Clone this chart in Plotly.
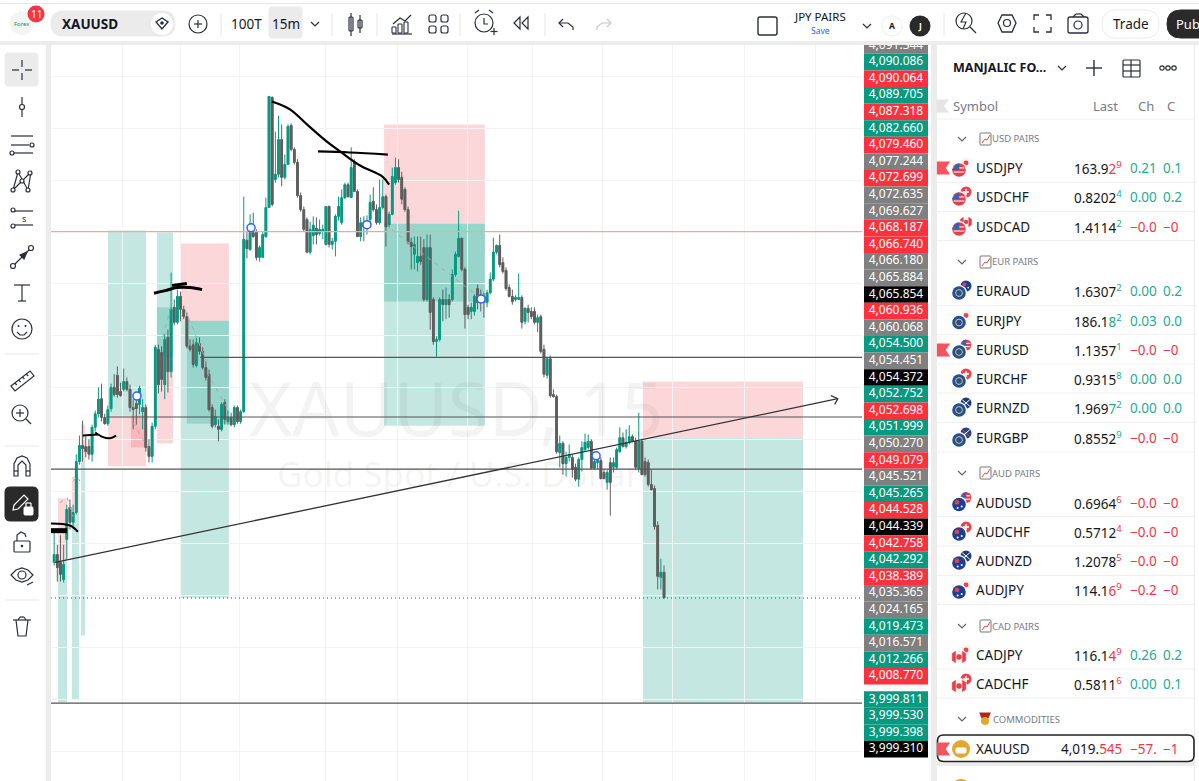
import plotly.graph_objects as go

# candles, one entry per 15m bar
bar_open = [
    4026.4,4027.9,4026.4,4023.1,4030.8,4037.0,4034.1,4036.0,4045.8,4048.9,
    4048.7,4048.7,4047.2,4052.4,4055.0,4057.9,4054.3,4053.1,4056.0,4060.1,
    4062.4,4059.3,4059.7,4061.2,4059.7,4056.2,4057.0,4056.8,4055.4,4056.2,
    4048.7,4046.8,4052.6,4067.4,4066.8,4060.6,4069.7,4063.1,4075.5,4072.6,
    4077.6,4075.1,4073.7,4068.0,4068.3,4064.3,4068.5,4067.0,4063.9,4062.6,
    4056.2,4052.9,4052.6,4052.0,4057.2,4053.5,4054.3,4052.9,4056.2,4053.5,
    4055.4,4088.4,4086.6,4089.9,4090.1,4085.1,4085.1,4089.1,4094.7,4115.9,
    4100.1,4101.1,4107.8,4100.5,4103.0,4110.5,4105.9,4103.4,4097.0,4094.3,
    4092.4,4086.1,4089.3,4090.7,4089.7,4090.1,4087.6,4094.9,4087.6,4088.2,
    4093.0,4091.8,4096.6,4099.1,4096.6,4103.6,4097.8,4089.1,4091.8,4090.9,
    4092.4,4095.9,4094.3,4091.8,4094.7,4096.8,4091.4,4093.4,4099.5,4102.4,
    4100.5,4098.2,4094.3,4088.0,4085.7,4084.1,4085.3,4087.0,4077.0,4087.0,
    4077.0,4068.9,4069.3,4077.0,4076.0,4077.0,4077.0,4081.8,4085.3,4088.8,
    4082.8,4075.5,4074.7,4074.7,4079.1,4077.6,4077.6,4076.4,4078.3,4080.9,
    4086.1,4087.4,4084.1,4082.6,4079.3,4077.6,4077.0,4077.0,4077.4,4072.8,
    4075.3,4074.7,4074.7,4072.6,4073.7,4067.4,4062.4,4065.6,4058.7,4058.3,
    4047.5,4049.3,4045.4,4046.6,4046.6,4044.7,4042.4,4046.2,4048.1,4048.5,
    4049.7,4044.5,4045.6,4046.0,4043.7,4041.8,4045.6,4044.7,4044.7,4047.7,
    4050.4,4048.7,4049.5,4050.6,4049.7,4044.5,4049.7,4045.8,4045.6,4041.4,
    4040.6,4033.5,4023.5,4024.5,
]
bar_high = [
    4032.1,4029.8,4031.6,4029.8,4037.5,4038.5,4037.5,4047.2,4050.8,4053.7,
    4050.6,4050.1,4052.9,4055.6,4060.1,4060.8,4055.0,4056.6,4060.8,4062.6,
    4064.1,4061.0,4063.7,4062.0,4060.6,4057.8,4058.7,4060.4,4057.8,4056.8,
    4050.1,4053.3,4068.3,4068.3,4068.0,4070.3,4071.2,4082.2,4077.0,4078.9,
    4078.5,4075.8,4074.5,4069.3,4069.3,4069.9,4069.7,4067.8,4065.1,4063.5,
    4056.8,4055.8,4053.9,4057.2,4057.8,4055.6,4055.2,4056.6,4056.6,4055.8,
    4096.8,4090.1,4093.4,4093.7,4090.5,4087.4,4090.1,4096.6,4116.1,4116.1,
    4109.3,4112.4,4110.7,4104.9,4110.7,4110.9,4106.3,4104.0,4097.6,4094.9,
    4092.8,4092.0,4093.0,4092.8,4092.4,4091.4,4094.9,4095.1,4088.9,4093.4,
    4096.8,4098.2,4099.5,4099.5,4106.3,4104.0,4098.2,4092.8,4093.0,4093.2,
    4097.2,4098.6,4095.3,4100.1,4100.1,4097.2,4093.9,4102.4,4104.3,4104.0,
    4101.6,4098.6,4094.9,4088.9,4089.1,4089.1,4089.1,4088.6,4089.5,4089.5,
    4077.4,4069.9,4077.4,4078.9,4079.3,4078.0,4082.8,4086.2,4094.1,4088.9,
    4083.2,4076.0,4076.4,4078.0,4079.9,4078.9,4078.3,4078.9,4082.2,4088.9,
    4087.6,4089.5,4085.1,4083.2,4079.9,4078.9,4077.8,4082.0,4077.8,4075.5,
    4076.0,4075.5,4075.5,4074.1,4074.1,4068.3,4066.0,4066.2,4059.7,4058.7,
    4050.8,4049.7,4047.7,4049.1,4047.2,4045.4,4046.6,4049.7,4051.2,4051.0,
    4050.1,4047.2,4047.0,4046.6,4044.3,4044.3,4046.6,4046.6,4048.5,4052.4,
    4051.4,4052.0,4052.8,4051.0,4050.4,4055.2,4050.2,4046.6,4046.2,4044.3,
    4041.2,4034.3,4027.1,4025.8,
]
bar_low = [
    4025.8,4022.7,4022.7,4022.5,4027.0,4032.7,4033.3,4035.6,4045.2,4045.8,
    4046.6,4046.2,4045.8,4051.6,4054.3,4053.5,4052.9,4052.7,4055.4,4058.3,
    4058.1,4058.3,4059.3,4059.3,4055.4,4052.0,4052.9,4054.9,4052.0,4047.7,
    4045.6,4045.6,4052.0,4058.9,4059.3,4057.8,4059.1,4062.0,4072.0,4072.2,
    4072.8,4073.2,4067.6,4067.0,4063.9,4063.9,4066.4,4063.5,4061.4,4055.4,
    4052.2,4052.4,4049.7,4051.6,4052.9,4052.9,4052.6,4052.4,4053.1,4053.1,
    4055.2,4084.9,4086.4,4088.9,4084.5,4084.3,4085.1,4088.9,4094.7,4094.9,
    4099.5,4100.5,4098.8,4100.1,4103.0,4105.5,4103.0,4096.6,4093.9,4090.1,
    4085.9,4085.7,4087.6,4087.6,4089.3,4088.6,4087.4,4087.0,4086.6,4085.3,
    4092.2,4091.4,4096.3,4096.6,4096.6,4097.8,4089.1,4088.2,4088.2,4089.5,
    4090.9,4093.9,4091.4,4091.4,4094.3,4087.2,4090.9,4093.2,4099.1,4099.5,
    4095.3,4093.9,4087.6,4082.8,4082.8,4082.4,4083.7,4076.6,4076.6,4071.2,
    4068.3,4066.0,4068.9,4072.8,4073.2,4073.5,4076.6,4081.4,4085.1,4082.4,
    4071.4,4073.2,4073.2,4073.9,4075.1,4074.7,4073.5,4075.5,4078.0,4080.5,
    4085.7,4083.2,4082.0,4078.7,4077.4,4076.0,4076.6,4077.0,4071.4,4072.2,
    4072.6,4073.2,4072.2,4070.7,4066.6,4062.0,4061.8,4058.1,4058.1,4047.3,
    4044.7,4043.3,4042.9,4045.8,4042.7,4042.0,4041.0,4043.9,4047.7,4048.1,
    4044.3,4044.3,4044.3,4042.4,4042.4,4040.4,4035.4,4043.7,4044.3,4047.5,
    4048.5,4048.3,4049.1,4049.5,4044.3,4043.7,4043.1,4042.9,4041.0,4040.2,
    4032.7,4021.2,4021.2,4019.4,
]
bar_close = [
    4027.9,4025.4,4024.1,4026.0,4036.6,4034.1,4036.0,4045.8,4048.9,4048.3,
    4047.7,4047.2,4052.4,4055.0,4057.8,4054.3,4053.1,4055.8,4060.1,4058.7,
    4058.7,4058.5,4061.2,4059.7,4056.2,4055.8,4056.0,4059.9,4056.2,4048.5,
    4046.8,4052.6,4067.8,4060.6,4061.6,4069.3,4063.1,4075.1,4072.6,4077.6,
    4075.1,4073.7,4068.0,4067.4,4064.5,4068.7,4067.0,4063.9,4062.0,4055.8,
    4052.6,4054.5,4052.0,4056.8,4053.9,4054.3,4052.9,4056.2,4053.5,4055.4,
    4088.6,4086.8,4089.9,4089.1,4085.1,4087.0,4089.5,4094.7,4116.1,4095.3,
    4101.1,4107.8,4100.5,4103.0,4110.3,4105.9,4103.4,4097.0,4094.3,4090.5,
    4086.1,4090.5,4091.3,4089.5,4090.5,4090.5,4094.9,4087.6,4088.2,4093.0,
    4094.9,4096.6,4099.1,4096.8,4102.4,4097.8,4089.1,4091.8,4090.9,4091.3,
    4095.7,4094.3,4091.8,4094.7,4096.8,4091.0,4093.4,4100.7,4102.4,4100.1,
    4096.3,4094.3,4088.0,4087.2,4087.6,4085.3,4084.3,4077.0,4087.0,4074.5,
    4068.9,4069.3,4077.0,4076.0,4077.0,4076.0,4081.8,4085.7,4088.8,4082.8,
    4074.1,4074.1,4075.5,4077.6,4076.4,4077.0,4076.4,4078.3,4080.9,4086.1,
    4087.4,4083.7,4082.4,4079.1,4077.6,4076.6,4077.4,4077.4,4072.6,4075.3,
    4074.5,4073.7,4072.6,4073.5,4067.0,4062.6,4065.6,4058.5,4058.3,4047.7,
    4049.3,4045.4,4046.6,4047.2,4044.3,4042.4,4046.2,4048.5,4049.5,4049.7,
    4044.5,4045.8,4046.0,4042.5,4042.5,4043.7,4041.8,4045.6,4048.1,4050.4,
    4048.7,4049.5,4050.6,4049.7,4044.7,4049.7,4043.3,4043.3,4041.4,4040.4,
    4033.3,4023.7,4024.5,4019.6,
]
bar_index = list(range(len(bar_open)))

# vertical grid lines sit on these bars
grid_bars = [21.5,40.1,58.8,86.0,108.5,130.7,151.5,173.4,195.8,218.6,240.8]

# position tools: [first bar, last bar, low price, high price]
profit_zones = [
    [17.0,29.1,4054.7,4090.3],
    [32.5,37.6,4066.0,4089.9],
    [32.5,37.6,4066.0,4075.5],
    [40.1,55.3,4019.6,4072.9],
    [42.0,55.3,4053.1,4072.9],
    [104.4,136.3,4052.7,4091.6],
    [104.4,136.3,4076.6,4091.6],
    [186.3,237.0,3999.4,4050.4],
    [1.2,4.1,3999.4,4027.0],
    [5.6,7.9,4000.0,4035.6],
    [8.5,9.8,4012.3,4045.6],
]
stop_zones = [
    [17.0,29.1,4044.9,4054.7],
    [24.3,29.1,4048.5,4054.7],
    [32.5,37.6,4049.3,4066.0],
    [40.1,55.3,4072.9,4087.8],
    [104.4,136.3,4091.6,4110.7],
    [186.3,237.0,4050.4,4061.2],
    [1.2,4.1,4027.0,4038.7],
    [5.6,7.9,4035.6,4042.9],
    [8.5,9.8,4045.6,4052.9],
]

# horizontal levels: price and the bar they start from
level_prices = [4065.854,4054.372,4044.339,3999.310]
level_starts = [46.2,16.7,-1,-1]
entry_price = 4090.064
last_price = 4019.545

trend_bars = [0.3,248.0]
trend_prices = [4026.4,4057.9]
arrow_bars = [245.8,248.0,247.0]
arrow_prices = [4058.5,4057.9,4056.8]

# hand drawn brush strokes
brush_strokes = [
    ([68.9,74.6,80.0,86.3,90.5,96.8,103.8,106.0],[4115.1,4113.6,4110.7,4107.4,4105.5,4102.8,4100.7,4099.1],2.2),
    ([83.5,93.6,105.6],[4105.5,4105.3,4104.9],2.2),
    ([31.6,35.1,38.9,43.0,46.8],[4078.2,4078.7,4079.3,4079.3,4078.9],3),
    ([37.3,42.0],[4079.7,4080.1],3),
    ([9.1,13.9],[4050.8,4051.0],2),
    ([13.0,15.5,17.7,19.6],[4051.4,4050.5,4050.3,4050.8],2),
    ([-1,5.0,7.5],[4033.9,4033.5,4032.3],2),
    ([-1,4.1],[4032.5,4032.5],5),
]
dash_strokes = [
    ([106.9,134.8],[4090.4,4077.3]),
    ([34.4,36.7],[4069.8,4075.1]),
    ([41.4,48.4],[4075.1,4064.8]),
    ([48.4,55.6],[4062.9,4055.2]),
    ([24.9,29.7],[4053.3,4048.5]),
    ([1.8,4.1,6.0],[4037.9,4038.9,4035.2]),
    ([6.0,7.2,8.2],[4042.0,4042.9,4042.0]),
]
marker_bars = [62.3,26.2,99.0,135.1,171.5]
marker_prices = [4090.8,4058.4,4091.4,4077.1,4046.9]

# price scale tags, top to bottom
tag_text = [
    "4,091.344","4,090.086","4,090.064","4,089.705","4,087.318","4,082.660","4,079.460","4,077.244",
    "4,072.699","4,072.635","4,069.627","4,068.187","4,066.740","4,066.180","4,065.884","4,065.854",
    "4,060.936","4,060.068","4,054.500","4,054.451","4,054.372","4,052.752","4,052.698","4,051.999",
    "4,050.270","4,049.079","4,045.521","4,045.265","4,044.528","4,044.339","4,042.758","4,042.292",
    "4,038.389","4,035.365","4,024.165","4,019.473","4,016.571","4,012.266","4,008.770",
    "3,999.811","3,999.530","3,999.398","3,999.310",
]
tag_kind = [
    "a","g","r","g","r","g","r","a",
    "r","a","a","r","r","a","a","k",
    "r","a","g","a","k","g","r","g",
    "a","r","a","g","r","k","r","g",
    "r","a","a","g","a","g","r",
    "g","g","g","k",
]

# watchlist
watch_groups = ["USD PAIRS","EUR PAIRS","AUD PAIRS","CAD PAIRS","COMMODITIES"]
watch_symbols = ["USDJPY","USDCHF","USDCAD","EURAUD","EURJPY","EURUSD","EURCHF","EURNZD","EURGBP",
                 "AUDUSD","AUDCHF","AUDNZD","AUDJPY","CADJPY","CADCHF","XAUUSD"]
watch_main = ["163.9","0.8202","1.4114","1.6307","186.1","1.1357","0.9315","1.969","0.8552",
              "0.6964","0.5712","1.2078","114.1","116.1","0.5811","4,019."]
watch_tail = ["2","","","","8","","","7","","","","","6","4","","545"]
watch_sup = ["9","4","2","2","2","1","8","2","9","6","4","5","9","9","6",""]
watch_dir = ["r","g","g","g","g","g","g","g","g","r","r","r","r","r","r","r"]
watch_chg = ["0.21","0.00","−0.0","0.00","0.03","−0.0","0.00","0.00","−0.0",
             "−0.0","−0.0","−0.0","−0.2","0.26","0.00","−57."]
watch_pct = ["0.1","0.2","−0","0.2","0.0","−0","0.0","0.0","−0","−0","−0","−0","−0","0.2","0.1","−1"]

GREEN = "#089981"
RED = "#f23645"
GREY = "#5f5f5f"
INK = "#2a2e39"
FONT = "Noto Sans"

# page furniture is laid out in window pixels
def X(px):
    return px / 1199
def Y(py):
    return 1 - py / 781

shapes = []
notes = []

def rect(x0, y0, x1, y1, fill, layer="below"):
    shapes.append(dict(type="rect", xref="paper", yref="paper", x0=X(x0), x1=X(x1), y0=Y(y0), y1=Y(y1),
                       fillcolor=fill, line_width=0, layer=layer))

def seg(x0, y0, x1, y1, color=INK, width=1.2):
    shapes.append(dict(type="line", xref="paper", yref="paper", x0=X(x0), x1=X(x1), y0=Y(y0), y1=Y(y1),
                       line=dict(color=color, width=width), layer="above"))

def ring(x, y, r, color=INK, fill="rgba(0,0,0,0)", width=1.2):
    shapes.append(dict(type="circle", xref="paper", yref="paper", x0=X(x-r), x1=X(x+r), y0=Y(y+r), y1=Y(y-r),
                       line=dict(color=color, width=width), fillcolor=fill, layer="above"))

def dot(x, y, r, fill):
    shapes.append(dict(type="circle", xref="paper", yref="paper", x0=X(x-r), x1=X(x+r), y0=Y(y+r), y1=Y(y-r),
                       line_width=0, fillcolor=fill, layer="above"))

def poly(points, color=INK, fill="rgba(0,0,0,0)", width=1.2, closed=False):
    p = "M " + " L ".join("%.5f,%.5f" % (X(a), Y(b)) for a, b in points)
    if closed:
        p += " Z"
    shapes.append(dict(type="path", xref="paper", yref="paper", path=p,
                       line=dict(color=color, width=width), fillcolor=fill, layer="above"))

def pill(x0, y0, x1, y1, r, fill, color=None, width=1, layer="above"):
    p = "M %.5f,%.5f" % (X(x0+r), Y(y0))
    p += " L %.5f,%.5f Q %.5f,%.5f %.5f,%.5f" % (X(x1-r), Y(y0), X(x1), Y(y0), X(x1), Y(y0+r))
    p += " L %.5f,%.5f Q %.5f,%.5f %.5f,%.5f" % (X(x1), Y(y1-r), X(x1), Y(y1), X(x1-r), Y(y1))
    p += " L %.5f,%.5f Q %.5f,%.5f %.5f,%.5f" % (X(x0+r), Y(y1), X(x0), Y(y1), X(x0), Y(y1-r))
    p += " L %.5f,%.5f Q %.5f,%.5f %.5f,%.5f Z" % (X(x0), Y(y0+r), X(x0), Y(y0), X(x0+r), Y(y0))
    shapes.append(dict(type="path", xref="paper", yref="paper", path=p, fillcolor=fill,
                       line=dict(color=color or fill, width=width), layer=layer))

def text(x, y, s, size=13, color="#131722", anchor="left", family=FONT):
    # annotations carry about 2px of padding
    nudge = {"left": -2, "right": 2, "center": 0}[anchor]
    notes.append(dict(xref="paper", yref="paper", x=X(x + nudge), y=Y(y), text=s, showarrow=False, xanchor=anchor,
                      yanchor="middle", font=dict(size=size, color=color, family=family)))

# panels
rect(0, 0, 1199, 41, "white")
rect(0, 3, 1199, 4, "#e6e6e6")
rect(0, 45, 46, 781, "white")
rect(862, 45, 931, 781, "white")
rect(937, 45, 1194, 762, "white")
rect(937, 766, 1194, 781, "white")
rect(1195, 45, 1199, 781, "white")

# top bar, left part
dot(22, 23, 12, "#f4f4f4")
text(22, 24, "Forex", 6, "#1c8f4c", "center")
dot(36, 14, 8.5, RED)
text(36, 14, "11", 10, "white", "center")
pill(51, 11, 175, 36, 12, "#ebebeb")
text(62, 24, "<b>XAUUSD</b>", 13.5)
dot(162, 24, 11, "white")
poly([(156,22),(162,18),(168,22),(162,29)], width=1.4, closed=True)
dot(162, 23, 1.8, INK)
ring(198, 24, 9)
seg(198, 20, 198, 28)
seg(194, 24, 202, 24)
seg(221, 13, 221, 36, "#e6e6e6", 1)
text(246, 24, "100T", 13.5, anchor="center")
pill(269, 7, 302, 38, 4, "#ebebeb")
text(286, 24, "15m", 13.5, anchor="center")
poly([(311,22),(315,26),(319,22)])
seg(332, 13, 332, 36, "#e6e6e6", 1)
pill(349, 17, 353, 31, 1, "white", INK, 1.2)
seg(351, 13, 351, 36)
pill(358, 20, 362, 28, 1, "white", INK, 1.2)
seg(360, 15, 360, 33)
seg(377, 13, 377, 36, "#e6e6e6", 1)
poly([(393,24),(400,18),(405,21),(411,15)])
for bx, bt in zip([394,400,406], [27,24,22]):
    pill(bx-2, bt, bx+2, 33, 0.5, "white", INK, 1.1)
seg(392, 34, 412, 34)
for gx in [429, 441]:
    for gy in [15, 26]:
        pill(gx, gy, gx+7, gy+7, 2, "white", INK, 1.2)
seg(460, 13, 460, 36, "#e6e6e6", 1)
ring(484, 23, 9)
poly([(484,18),(484,24),(488,24)])
seg(475, 13, 479, 10)
seg(493, 13, 489, 10)
seg(494, 28, 494, 35)
seg(490.5, 31.5, 497.5, 31.5)
poly([(520,17),(514,23),(520,29)], closed=True)
poly([(528,17),(522,23),(528,29)], closed=True)
seg(545, 13, 545, 36, "#e6e6e6", 1)
poly([(563,19),(559,23),(563,27)])
poly([(559,23),(568,23),(573,27),(573,30)])
poly([(607,19),(611,23),(607,27)], color="#c8c8c8")
poly([(611,23),(602,23),(597,27),(597,30)], color="#c8c8c8")

# top bar, right part
pill(758, 17, 777, 35, 2, "white", INK, 1.4)
text(820, 16.5, "JPY PAIRS", 11.5, anchor="center")
text(820, 31, "Save", 8.5, "#2962ff", "center")
poly([(863,24),(867,28),(871,24)])
ring(892, 26, 10, "#eeeeee", "white", 1)
text(892, 26, "<b>A</b>", 8.5, anchor="center")
dot(920, 26, 10.5, "#2a2a2a")
text(920, 26, "<b>J</b>", 8.5, "white", "center")
seg(944, 13, 944, 36, "#e6e6e6", 1)
ring(964, 21, 8)
seg(970, 27, 976, 33)
poly([(966,13),(961,22),(966,22),(963,29)], width=1.1)
poly([(998,23),(1002,15),(1012,15),(1016,23),(1012,32),(1002,32)], width=1.3, closed=True)
ring(1007, 23, 3.5)
for a, b, c, d, e, f in [(1034,20,1034,15,1039,15),(1046,15,1051,15,1051,20),(1051,27,1051,32,1046,32),(1039,32,1034,32,1034,27)]:
    poly([(a,b),(c,d),(e,f)], width=1.3)
pill(1068, 17, 1088, 33, 2, "white", INK, 1.3)
ring(1078, 25, 4)
seg(1073, 17, 1076, 14)
seg(1076, 14, 1081, 14)
seg(1081, 14, 1084, 17)
pill(1102, 10, 1159, 38, 14, "white", "#ececec", 1)
text(1130.5, 24, "Trade", 13.5, anchor="center")
pill(1167, 10, 1215, 38, 14, "#2a2a2a")
text(1176, 24, "Pub", 13, "white", "left")

# left tool strip
pill(5, 53, 38, 86, 4, "#ebebeb")
for a, b, c, d in [(22,60,22,67),(22,73,22,80),(12,70,19,70),(25,70,32,70)]:
    seg(a, b, c, d)
seg(22, 97, 22, 117)
ring(22, 107, 2.5, fill="white")
seg(11, 136, 33, 136)
seg(11, 145, 29, 145)
ring(32, 145, 2, fill="white")
seg(14, 153, 33, 153)
ring(12, 153, 2, fill="white")
poly([(13,190),(18,172),(28,190),(31,172),(13,190)])
for a, b in [(13,190),(18,172),(28,190),(30,173),(22,181)]:
    ring(a, b, 2, fill="white")
seg(15, 211, 33, 211)
seg(15, 225, 33, 225)
ring(13, 210, 2, fill="white")
ring(13, 226, 2, fill="white")
text(24, 218, "s", 9, INK, "center")
seg(14, 265, 30, 249)
ring(13, 266, 2.5, fill="white")
ring(31, 248, 2.5, fill="white")
poly([(20,255),(27,252),(24,259)], fill=INK, closed=True)
seg(14, 285, 30, 285)
seg(22, 285, 22, 301)
seg(18, 301, 26, 301)
ring(22, 329, 10)
dot(18.5, 326, 1, INK)
dot(25.5, 326, 1, INK)
poly([(17,332),(20,335),(24,335),(27,332)])
seg(5, 354, 39, 354, "#e6e6e6", 1)
poly([(11,386),(30,371),(34,376),(15,391)], closed=True)
for t in [0.2, 0.4, 0.6, 0.8]:
    seg(11+19*t, 386-15*t, 13+19*t, 388-15*t)
ring(20, 413, 8)
seg(26, 419, 31, 424)
seg(20, 409, 20, 417)
seg(16, 413, 24, 413)
seg(5, 446, 39, 446, "#e6e6e6", 1)
poly([(14,476),(14,464),(17,458),(22,456),(27,458),(30,464),(30,476),(26,476),(26,465),(22,461),(18,465),(18,476)], closed=True)
seg(14, 471, 18, 471)
seg(26, 471, 30, 471)
pill(5, 487, 38, 521, 5, "#2a2a2a")
poly([(13,510),(14,505),(24,495),(28,499),(18,509)], color="white", closed=True)
pill(24, 507, 33, 515, 1, "white")
seg(26, 507, 26, 503, "white")
seg(31, 507, 31, 503, "white")
seg(26, 503, 31, 503, "white")
pill(14, 541, 30, 552, 1, "white", INK, 1.2)
poly([(17,541),(17,535),(21,532),(25,534),(26,537)])
dot(22, 546, 1.3, INK)
poly([(11,575),(16,570),(22,568),(28,570),(33,575),(28,580),(22,582),(16,580)], closed=True)
ring(22, 575, 4)
seg(27, 585, 33, 582)
seg(5, 600, 39, 600, "#e6e6e6", 1)
seg(13, 620, 31, 620)
seg(18, 620, 20, 617)
seg(26, 620, 24, 617)
seg(20, 617, 24, 617)
poly([(16,620),(18,636),(26,636),(28,620)])

# watchlist header
text(953, 68, "<b>MANJALIC FO...</b>", 12.5)
poly([(1058,66),(1062,70),(1066,66)])
seg(1094, 60, 1094, 76, width=1.4)
seg(1086, 68, 1102, 68, width=1.4)
pill(1123, 60, 1140, 77, 1, "white", INK, 1.2)
seg(1123, 65, 1140, 65)
seg(1131, 60, 1131, 77)
seg(1123, 71, 1140, 71)
for cx in [1162, 1168, 1174]:
    ring(cx, 68, 2.2)
poly([(937,100),(948,100),(943,106),(948,112),(937,112)], color="#e4e4e4", fill="#e4e4e4", closed=True)
text(953, 106, "Symbol", 13, "#787b86")
text(1118, 106, "Last", 13, "#787b86", "right")
text(1138, 106, "Ch", 13, "#787b86")
text(1167, 106, "C", 13, "#787b86")
seg(937, 119, 1194, 119, "#eeeeee", 1)

group_rows = [139, 262, 473, 626, 719]
symbol_rows = [168,197,227,291,320.5,350,379,408,438,502.5,532,561,590,655,684,749]
for name, gy in zip(watch_groups, group_rows):
    poly([(958,gy-2),(962,gy+2),(966,gy-2)], color="#666666")
    if name == "COMMODITIES":
        poly([(980,gy-6),(990,gy-6),(988,gy-1),(982,gy-1)], color="#b3261e", fill="#b3261e", closed=True)
        dot(985, gy+2, 4, "#e2a72e")
        text(993, gy, name, 9.5, "#787b86")
    else:
        pill(980, gy-6, 991, gy+6, 1, "white", "#777777", 1)
        poly([(982,gy+4),(985,gy),(987,gy+1),(990,gy-4)], color="#e0503a", width=1)
        text(992, gy, name, 9.5, "#787b86")

def draw_flag(code, cx, cy, r):
    base = {"USD":"#e5404a","JPY":"#f4f4f4","CHF":"#f0414a","CAD":"#f4f4f4","EUR":"#1f4f9e",
            "AUD":"#1d3f8f","NZD":"#1d3a7a","GBP":"#27407f"}[code]
    dot(cx, cy, r, base)
    if code == "USD":
        seg(cx-r*0.8, cy-r*0.3, cx+r*0.8, cy-r*0.3, "white", 1)
        seg(cx-r*0.8, cy+r*0.3, cx+r*0.8, cy+r*0.3, "white", 1)
        poly([(cx-r,cy),(cx-r*0.4,cy-r*0.8),(cx,cy-r*0.9),(cx,cy),(cx-r,cy)], color="#3d5fb5", fill="#3d5fb5", width=0.5, closed=True)
    if code == "JPY":
        dot(cx, cy, r*0.45, "#f0414a")
    if code == "CHF":
        seg(cx-r*0.55, cy, cx+r*0.55, cy, "white", 1.6)
        seg(cx, cy-r*0.55, cx, cy+r*0.55, "white", 1.6)
    if code == "CAD":
        dot(cx, cy, r*0.4, "#e5404a")
        poly([(cx-r,cy-r*0.5),(cx-r*0.5,cy-r*0.85),(cx-r*0.5,cy+r*0.85),(cx-r,cy+r*0.5)], color="#e5404a", fill="#e5404a", width=0.5, closed=True)
        poly([(cx+r,cy-r*0.5),(cx+r*0.5,cy-r*0.85),(cx+r*0.5,cy+r*0.85),(cx+r,cy+r*0.5)], color="#e5404a", fill="#e5404a", width=0.5, closed=True)
    if code == "EUR":
        ring(cx, cy, r*0.5, "#f2c531", width=1)
    if code == "AUD":
        dot(cx-r*0.3, cy-r*0.3, r*0.35, "#e5404a")
        dot(cx+r*0.4, cy+r*0.3, r*0.15, "white")
        dot(cx-r*0.2, cy+r*0.5, r*0.15, "white")
    if code in ("NZD", "GBP"):
        seg(cx-r*0.7, cy-r*0.6, cx+r*0.7, cy+r*0.6, "#e5404a" if code == "GBP" else "white", 1)
        seg(cx-r*0.7, cy+r*0.6, cx+r*0.7, cy-r*0.6, "white", 1)

for i, sym in enumerate(watch_symbols):
    ry = symbol_rows[i]
    base, quote = sym[:3], sym[3:]
    if sym == "XAUUSD":
        pill(937.5, 735, 1194, 761.5, 6, "white", "#222222", 1.6)
        dot(961, ry, 9, "#e2a72e")
        pill(956, ry-1, 966, ry+4, 1, "white")
    else:
        draw_flag(quote, 966, ry-5, 5.5)
        dot(959, ry+2, 8, "white")
        draw_flag(base, 959, ry+2, 6.8)
    if sym in ("USDJPY", "EURUSD", "XAUUSD"):
        poly([(937.5,ry-6),(949,ry-6),(945,ry),(949,ry+6),(937.5,ry+6)], color="#f7525f", fill="#f7525f", closed=True)
    text(976, ry, sym, 13.5)
    c = RED if watch_dir[i] == "r" else "#22ab94"
    label = watch_main[i]
    if watch_tail[i]:
        label += '<span style="color:%s">%s</span>' % (c, watch_tail[i])
    if watch_sup[i]:
        label += '<sup><span style="color:%s">%s</span></sup>' % (c, watch_sup[i])
    text(1122, ry, label, 13.5, "#131722", "right")
    chg_c = RED if watch_chg[i].startswith("−") else "#22ab94"
    text(1130, ry, watch_chg[i], 13.5, chg_c)
    text(1163, ry, watch_pct[i], 13.5, chg_c)
for ly in [182.5,211.5,240.5,305.5,334.5,364,393,422.5,452,516.5,546,575.5,604.5,669,698]:
    seg(937, ly, 1194, ly, "#f0f0f0", 1)
dot(961, 789, 10, "#e2a72e")

# watermark over the chart
text(456, 407, "XAUUSD, 15", 74, "rgba(90,90,90,0.075)", "center")
text(458, 473, "Gold Spot / U.S. Dollar", 35, "rgba(90,90,90,0.075)", "center")

# chart shapes, in bars and prices
for x0, x1, lo, hi in profit_zones:
    shapes.append(dict(type="rect", xref="x", yref="y", x0=x0, x1=x1, y0=lo, y1=hi,
                       fillcolor="rgba(8,153,129,0.24)", line_width=0, layer="below"))
for x0, x1, lo, hi in stop_zones:
    shapes.append(dict(type="rect", xref="x", yref="y", x0=x0, x1=x1, y0=lo, y1=hi,
                       fillcolor="rgba(242,54,69,0.2)", line_width=0, layer="below"))

fig = go.Figure()

for price, start in zip(level_prices, level_starts):
    fig.add_trace(go.Scatter(x=[start, 256], y=[price, price], mode="lines", line=dict(color="#555555", width=1.1),
                             hoverinfo="skip"))
fig.add_trace(go.Scatter(x=[-1, 256], y=[entry_price, entry_price], mode="lines",
                         line=dict(color="#f4a3aa", width=1.2), hoverinfo="skip"))
fig.add_trace(go.Scatter(x=[-1, 256], y=[last_price, last_price], mode="lines",
                         line=dict(color="#444444", width=1, dash="1px,3px"), hoverinfo="skip"))
for dx, dy in dash_strokes:
    fig.add_trace(go.Scatter(x=dx, y=dy, mode="lines", line=dict(color="#a8a8a8", width=1, dash="4px,5px"),
                             hoverinfo="skip"))

# thick bodies under the candlestick, whose own boxes come out narrow at this spacing
fig.add_trace(go.Bar(
    x=bar_index,
    y=[abs(c - o) for o, c in zip(bar_open, bar_close)],
    base=[min(o, c) for o, c in zip(bar_open, bar_close)],
    width=0.88,
    marker=dict(color=[GREEN if c >= o else GREY for o, c in zip(bar_open, bar_close)], line_width=0),
    hoverinfo="skip"))

fig.add_trace(go.Candlestick(
    x=bar_index, open=bar_open, high=bar_high, low=bar_low, close=bar_close,
    increasing=dict(line=dict(color=GREEN, width=1), fillcolor=GREEN),
    decreasing=dict(line=dict(color=GREY, width=1), fillcolor=GREY),
    whiskerwidth=0, hoverinfo="skip"))

fig.add_trace(go.Scatter(x=trend_bars, y=trend_prices, mode="lines", line=dict(color="#333333", width=1.3),
                         hoverinfo="skip"))
fig.add_trace(go.Scatter(x=arrow_bars, y=arrow_prices, mode="lines", line=dict(color="#333333", width=1.3),
                         hoverinfo="skip"))
for sx, sy, w in brush_strokes:
    fig.add_trace(go.Scatter(x=sx, y=sy, mode="lines", line=dict(color="#000000", width=w, shape="spline"),
                             hoverinfo="skip"))
fig.add_trace(go.Scatter(x=marker_bars, y=marker_prices, mode="markers",
                         marker=dict(size=8, color="white", line=dict(color="#2962ff", width=1.5)),
                         hoverinfo="skip"))

# price scale tags as a thin bar column so the top one is cut by its axis
tag_colors = {"g": GREEN, "r": "#f8333f", "a": "#808080", "k": "#000000"}
tag_rows = []
for n in range(len(tag_text)):
    if n < 39:
        tag_rows.append(45.5 + 16.6 * n)
    else:
        tag_rows.append(699.5 + 16.6 * (n - 39))
fig.add_trace(go.Bar(
    x=[1] * len(tag_text), y=tag_rows, orientation="h", width=16.6,
    marker=dict(color=[tag_colors[k] for k in tag_kind], line_width=0),
    textposition="none", xaxis="x2", yaxis="y2", hoverinfo="skip"))
fig.add_trace(go.Scatter(
    x=[0.5] * len(tag_text), y=tag_rows, mode="text", text=tag_text, textposition="middle center",
    textfont=dict(color="white", size=12, family=FONT), cliponaxis=True,
    xaxis="x2", yaxis="y2", hoverinfo="skip"))

fig.update_layout(
    width=1199, height=781,
    margin=dict(l=0, r=0, t=0, b=0, pad=0),
    paper_bgcolor="#ececec",
    plot_bgcolor="white",
    showlegend=False,
    shapes=shapes,
    annotations=notes,
    xaxis=dict(domain=[X(51), X(862)], range=[-1, 255.65], tickvals=grid_bars, showticklabels=False, ticks="",
               showgrid=True, gridcolor="#f3f3f3", gridwidth=1, zeroline=False, rangeslider=dict(visible=False)),
    yaxis=dict(domain=[0, Y(45)], range=[3984.31, 4125.99], tick0=4000, dtick=10, showticklabels=False, ticks="",
               showgrid=True, gridcolor="#f3f3f3", gridwidth=1, zeroline=False),
    xaxis2=dict(domain=[X(864), X(928)], range=[0, 1], visible=False, anchor="y2"),
    yaxis2=dict(domain=[0, Y(45)], range=[781, 45], visible=False, anchor="x2"),
)

fig.write_html("out.html", config=dict(displayModeBar=False),
               post_script="document.body.style.margin='0';document.body.style.overflow='hidden';")
